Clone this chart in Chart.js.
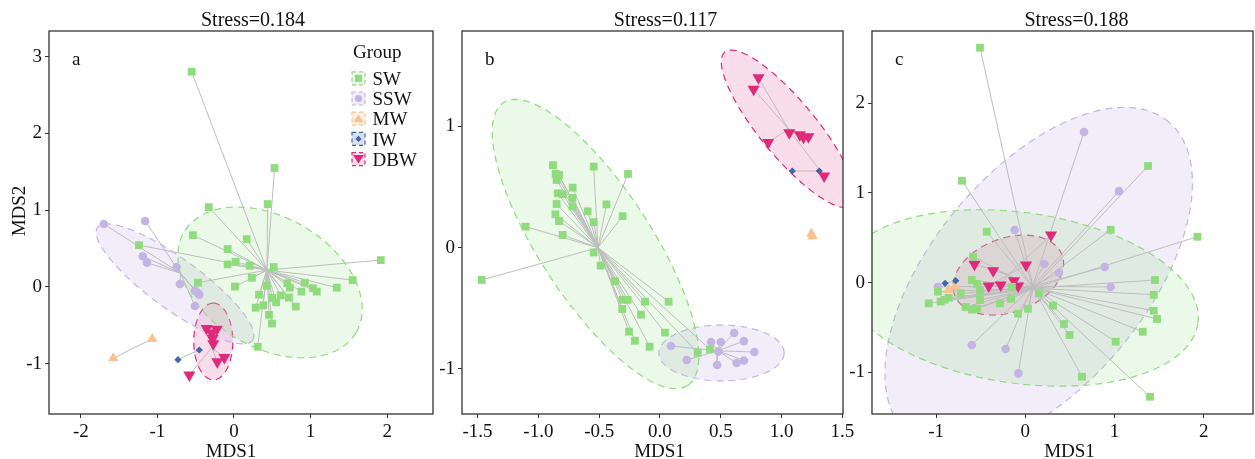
<!DOCTYPE html>
<html>
<head>
<meta charset="utf-8">
<script src="https://cdn.jsdelivr.net/npm/chart.js@4.4.1/dist/chart.umd.min.js"></script>
<style>
html, body { margin: 0; padding: 0; background: #fff; }
#wrap { position: relative; width: 1255px; height: 459px; overflow: hidden; background: #fff; }
canvas { position: absolute; top: 0; }
</style>
</head>
<body>
<div id="wrap">
  <canvas id="pa" width="445" height="459" style="left:0px"></canvas>
  <canvas id="pb" width="425" height="459" style="left:435px"></canvas>
  <canvas id="pc" width="420" height="459" style="left:845px"></canvas>
</div>
<script>
// groups, in legend order
var groupNames = ['SW', 'SSW', 'MW', 'IW', 'DBW'];

// ---- panel a (points as [MDS1, MDS2]) ----
var a_SW = [[-0.553,2.805],[0.53,1.55],[0.44,1.08],[-0.33,1.04],[-0.536,0.675],[0.166,0.623],[-1.24,0.545],
  [-0.083,0.494],[-0.083,0.294],[0.022,0.329],[0.205,0.277],[0.519,0.26],[1.917,0.35],[1.55,0.09],[-0.47,0.056],
  [0.235,0.12],[0.013,0.005],[0.427,0.017],[0.697,0.048],[0.73,-0.009],[0.924,0.056],[1.03,-0.016],[1.08,-0.06],
  [1.342,-0.009],[0.88,-0.06],[0.327,-0.1],[0.50,-0.143],[0.61,-0.11],[0.716,-0.138],[0.55,-0.2],[0.383,-0.24],
  [0.283,-0.27],[0.806,-0.255],[0.457,-0.364],[0.497,-0.476],[0.31,-0.78]];
var a_SSW = [[-1.70,0.82],[-1.16,0.86],[-1.19,0.40],[-1.137,0.316],[-0.75,0.26],[-0.706,0.039],[-0.51,-0.048],
  [-0.454,-0.1],[-0.47,-0.08],[-0.51,-0.247]];
var a_MW = [[-1.576,-0.929],[-1.067,-0.678]];
var a_IW = [[-0.731,-0.947],[-0.453,-0.821]];
var a_DBW = [[-0.357,-0.54],[-0.226,-0.55],[-0.29,-0.60],[-0.28,-0.67],[-0.27,-0.74],[-0.218,-0.973],[-0.126,-0.92],[-0.583,-1.147]];
var a_centroids = [[0.43,0.22],[-0.70,0.18],[-1.32,-0.80],[-0.59,-0.88],[-0.29,-0.79]];
// ellipse: centre x, centre y, semi-major, semi-minor, angle (deg)
var a_ellipses = [[0.47,0.06,1.3,0.85,-30],[-0.77,0.04,1.25,0.33,-36],null,null,[-0.27,-0.71,0.5,0.255,90]];
var a_xTicks = [-2, -1, 0, 1, 2];
var a_yTicks = [-1, 0, 1, 2, 3];

// ---- panel b ----
var b_SW = [[-0.88,0.68],[-0.545,0.668],[-0.263,0.608],[-0.858,0.608],[-0.83,0.6],[-0.85,0.558],[-0.718,0.495],
  [-0.84,0.448],[-0.80,0.44],[-0.72,0.41],[-0.85,0.36],[-0.72,0.34],[-0.44,0.357],[-0.595,0.30],[-0.86,0.275],
  [-0.307,0.26],[-0.83,0.22],[-0.545,0.21],[-1.105,0.173],[-0.80,0.105],[-0.545,-0.04],[-0.488,-0.148],
  [-1.466,-0.266],[-0.37,-0.275],[-0.307,-0.43],[-0.266,-0.43],[-0.123,-0.445],[0.071,-0.445],[-0.31,-0.505],
  [-0.156,-0.552],[-0.255,-0.692],[0.041,-0.70],[-0.206,-0.767],[-0.085,-0.816],[0.31,-0.866],[0.411,-0.838]];
var b_SSW = [[0.09,-0.81],[0.22,-0.926],[0.42,-0.777],[0.50,-0.777],[0.61,-0.703],[0.69,-0.77],[0.776,-0.86],
  [0.48,-0.855],[0.47,-0.967],[0.63,-0.95],[0.69,-0.93]];
var b_MW = [[1.245,0.115],[1.255,0.095]];
var b_IW = [[1.088,0.632],[1.31,0.632]];
var b_DBW = [[0.81,1.40],[0.77,1.306],[1.063,0.948],[1.15,0.93],[1.18,0.91],[1.22,0.915],[0.89,0.866],[1.35,0.59]];
var b_centroids = [[-0.51,0.0],[0.475,-0.85],[1.25,0.105],[1.2,0.632],[1.055,0.98]];
var b_ellipses = [[-0.53,0.03,1.39,0.46,-57],[0.506,-0.868,0.515,0.23,0],null,null,[1.055,0.98,0.82,0.23,-50.5]];
var b_xTicks = [-1.5, -1.0, -0.5, 0.0, 0.5, 1.0, 1.5];
var b_yTicks = [-1, 0, 1];

// ---- panel c ----
var c_SW = [[-0.508,2.617],[-0.71,1.136],[1.376,1.30],[-0.433,0.568],[0.957,0.59],[1.93,0.512],[-0.586,0.29],
  [1.454,0.03],[1.44,-0.134],[1.44,-0.312],[1.476,-0.404],[1.316,-0.546],[1.013,-0.657],[0.636,-1.047],
  [1.398,-1.27],[0.497,-0.582],[0.434,-0.46],[0.31,-0.256],[0.154,-0.118],[0.03,-0.29],[-0.082,-0.345],
  [-0.16,-0.178],[-0.15,-0.045],[-0.284,-0.23],[-0.508,-0.092],[-0.508,-0.193],[-0.54,-0.014],[-0.6,0.03],
  [-0.54,-0.29],[-0.6,-0.3],[-0.67,-0.27],[-0.724,-0.118],[-0.86,-0.167],[-0.98,-0.1],[-0.95,-0.21],
  [-0.905,-0.19],[-1.083,-0.23]];
var c_SSW = [[0.658,1.678],[1.05,1.02],[-0.12,0.587],[0.213,0.208],[0.378,0.11],[0.89,0.175],[0.957,-0.048],
  [-0.6,-0.694],[-0.22,-0.738],[-0.078,-1.01],[-0.98,-0.045]];
var c_MW = [[-0.86,-0.08],[-0.79,-0.045]];
var c_IW = [[-0.9,-0.007],[-0.78,0.022]];
var c_DBW = [[0.288,0.53],[-0.57,0.205],[-0.36,0.134],[0.008,0.197],[-0.41,-0.037],[-0.276,-0.026],
  [-0.127,0.022],[-0.08,-0.037]];
var c_centroids = [[0.09,-0.06],[0.08,-0.04],[-0.825,-0.062],[-0.84,0.007],[-0.19,0.09]];
var c_ellipses = [[-0.06,-0.17,2.015,0.951,-8],[0.15,0.05,2.27,1.2,50],null,null,[-0.19,0.085,0.642,0.412,20]];
var c_xTicks = [-1, 0, 1, 2];
var c_yTicks = [-1, 0, 1, 2];

// ---- styles ----
var colors = ['#8FDB7D', '#C4B4E4', '#FDBF8C', '#3F66A8', '#E0297A'];
var fills = ['rgba(143,219,125,0.18)', 'rgba(196,180,228,0.24)', 'rgba(253,191,140,0.2)', 'rgba(63,102,168,0.2)', 'rgba(224,41,122,0.16)'];
var styles = ['rect', 'circle', 'triangle', 'rectRot', 'triangle'];
var radii = [5.5, 4.3, 6, 3.6, 7];
var rots = [0, 0, 0, 0, 180];
var drawOrder = [1, 2, 3, 4, 0]; // SW drawn on top
var SERIF = "'Liberation Serif', 'Times New Roman', serif";

function toXY(arr) { return arr.map(function (p) { return { x: p[0], y: p[1] }; }); }

function ellipsePts(e) {
  var pts = [], th = e[4] * Math.PI / 180;
  for (var i = 0; i <= 120; i++) {
    var t = i / 120 * 2 * Math.PI;
    pts.push({
      x: e[0] + e[2] * Math.cos(t) * Math.cos(th) - e[3] * Math.sin(t) * Math.sin(th),
      y: e[1] + e[2] * Math.cos(t) * Math.sin(th) + e[3] * Math.sin(t) * Math.cos(th)
    });
  }
  return pts;
}

function spider(c, arr) {
  var out = [];
  arr.forEach(function (p) {
    out.push({ x: c[0], y: c[1] }, { x: p[0], y: p[1] }, { x: NaN, y: NaN });
  });
  return out;
}

function drawKey(ctx, i, cx, cy) {
  ctx.fillStyle = fills[i];
  ctx.fillRect(cx - 6.5, cy - 6.5, 13, 13);
  ctx.strokeStyle = colors[i];
  ctx.lineWidth = 1.2;
  ctx.setLineDash([4, 3]);
  ctx.strokeRect(cx - 6.5, cy - 6.5, 13, 13);
  ctx.setLineDash([]);
  ctx.fillStyle = colors[i];
  ctx.beginPath();
  if (i === 0) ctx.rect(cx - 3.5, cy - 3.5, 7, 7);
  else if (i === 1) ctx.arc(cx, cy, 3.6, 0, 2 * Math.PI);
  else if (i === 2) { ctx.moveTo(cx, cy - 4.5); ctx.lineTo(cx + 5, cy + 3.5); ctx.lineTo(cx - 5, cy + 3.5); }
  else if (i === 3) { ctx.moveTo(cx, cy - 3.2); ctx.lineTo(cx + 3.2, cy); ctx.lineTo(cx, cy + 3.2); ctx.lineTo(cx - 3.2, cy); }
  else { ctx.moveTo(cx, cy + 4.5); ctx.lineTo(cx + 5.5, cy - 4); ctx.lineTo(cx - 5.5, cy - 4); }
  ctx.closePath();
  ctx.fill();
}

function decoPlugin(p) {
  return {
    id: 'deco' + p.tag,
    afterDraw: function (chart) {
      var ctx = chart.ctx, ar = chart.chartArea;
      ctx.save();
      ctx.strokeStyle = '#333';
      ctx.lineWidth = 1.3;
      ctx.strokeRect(ar.left, ar.top, ar.right - ar.left, ar.bottom - ar.top);
      ctx.fillStyle = '#111';
      ctx.textBaseline = 'alphabetic';
      ctx.textAlign = 'center';
      ctx.font = '20px ' + SERIF;
      ctx.fillText(p.title, (ar.left + ar.right) / 2 + p.titleDx, 26);
      ctx.font = '19px ' + SERIF;
      ctx.fillText('MDS1', (ar.left + ar.right) / 2 + p.xTitleDx, 457);
      ctx.textAlign = 'left';
      ctx.fillText(p.tag, ar.left + 23, 65);
      if (p.legend) {
        ctx.fillText('Group', 353, 58);
        groupNames.forEach(function (g, i) {
          var base = 85 + i * 20.2;
          drawKey(ctx, i, 358.5, base - 6.7);
          ctx.fillStyle = '#111';
          ctx.fillText(g, 372.5, base);
        });
      }
      if (p.yTitle) {
        ctx.translate(25, 211);
        ctx.rotate(-Math.PI / 2);
        ctx.textAlign = 'center';
        ctx.fillStyle = '#111';
        ctx.fillText('MDS2', 0, 0);
      }
      ctx.restore();
    }
  };
}

function makePanel(id, p) {
  var datasets = [];
  p.groups.forEach(function (arr, i) {
    if (p.ellipses[i]) {
      datasets.push({
        type: 'line', data: ellipsePts(p.ellipses[i]), order: 30,
        borderColor: colors[i], borderWidth: 1.2, borderDash: [7, 5],
        backgroundColor: fills[i], fill: 'shape', pointRadius: 0, tension: 0
      });
    }
    datasets.push({
      type: 'line', data: spider(p.centroids[i], arr), order: 20,
      borderColor: '#BDBDBD', borderWidth: 1, pointRadius: 0, spanGaps: false, fill: false
    });
  });
  drawOrder.forEach(function (i, k) {
    datasets.push({
      type: 'scatter', data: toXY(p.groups[i]), order: 10 - k,
      pointStyle: styles[i], pointRadius: radii[i], pointRotation: rots[i],
      backgroundColor: colors[i], borderColor: colors[i], borderWidth: 0
    });
  });

  var tickFont = { family: SERIF, size: 19 };
  new Chart(document.getElementById(id), {
    type: 'scatter',
    data: { datasets: datasets },
    plugins: [decoPlugin(p)],
    options: {
      responsive: false,
      animation: false,
      events: [],
      layout: { padding: { top: 31, right: p.padRight, left: 0, bottom: 0 } },
      plugins: { legend: { display: false }, tooltip: { enabled: false }, title: { display: false } },
      scales: {
        x: {
          type: 'linear', min: p.xRange[0], max: p.xRange[1],
          afterBuildTicks: function (s) { s.ticks = p.xTicks.map(function (v) { return { value: v }; }); },
          afterFit: function (s) { s.height = 45; s.paddingLeft = 0; s.paddingRight = 0; },
          ticks: {
            font: tickFont, color: '#111', padding: 3, maxRotation: 0, autoSkip: false,
            callback: function (v) { return p.xDec ? Number(v).toFixed(p.xDec) : String(v); }
          },
          grid: { drawOnChartArea: false, drawTicks: true, tickLength: 4, color: '#333' },
          border: { display: false }
        },
        y: {
          type: 'linear', min: p.yRange[0], max: p.yRange[1],
          afterBuildTicks: function (s) { s.ticks = p.yTicks.map(function (v) { return { value: v }; }); },
          afterFit: function (s) { s.width = p.yWidth; s.paddingTop = 0; s.paddingBottom = 0; },
          ticks: { font: tickFont, color: '#111', padding: 3, autoSkip: false,
            callback: function (v) { return String(v); } },
          grid: { drawOnChartArea: false, drawTicks: true, tickLength: 4, color: '#333' },
          border: { display: false }
        }
      }
    }
  });
}

makePanel('pa', {
  tag: 'a', title: 'Stress=0.184', titleDx: 12, xTitleDx: -10, yTitle: true, legend: true,
  groups: [a_SW, a_SSW, a_MW, a_IW, a_DBW], centroids: a_centroids, ellipses: a_ellipses,
  xTicks: a_xTicks, yTicks: a_yTicks, xDec: 0,
  xRange: [-2.415, 2.598], yRange: [-1.655, 3.335], yWidth: 49, padRight: 12
});
makePanel('pb', {
  tag: 'b', title: 'Stress=0.117', titleDx: 13, xTitleDx: 7,
  groups: [b_SW, b_SSW, b_MW, b_IW, b_DBW], centroids: b_centroids, ellipses: b_ellipses,
  xTicks: b_xTicks, yTicks: b_yTicks, xDec: 1,
  xRange: [-1.628, 1.505], yRange: [-1.371, 1.786], yWidth: 27, padRight: 17
});
makePanel('pc', {
  tag: 'c', title: 'Stress=0.188', titleDx: 14, xTitleDx: 7,
  groups: [c_SW, c_SSW, c_MW, c_IW, c_DBW], centroids: c_centroids, ellipses: c_ellipses,
  xTicks: c_xTicks, yTicks: c_yTicks, xDec: 0,
  xRange: [-1.719, 2.553], yRange: [-1.462, 2.803], yWidth: 27, padRight: 12
});
</script>
</body>
</html>
